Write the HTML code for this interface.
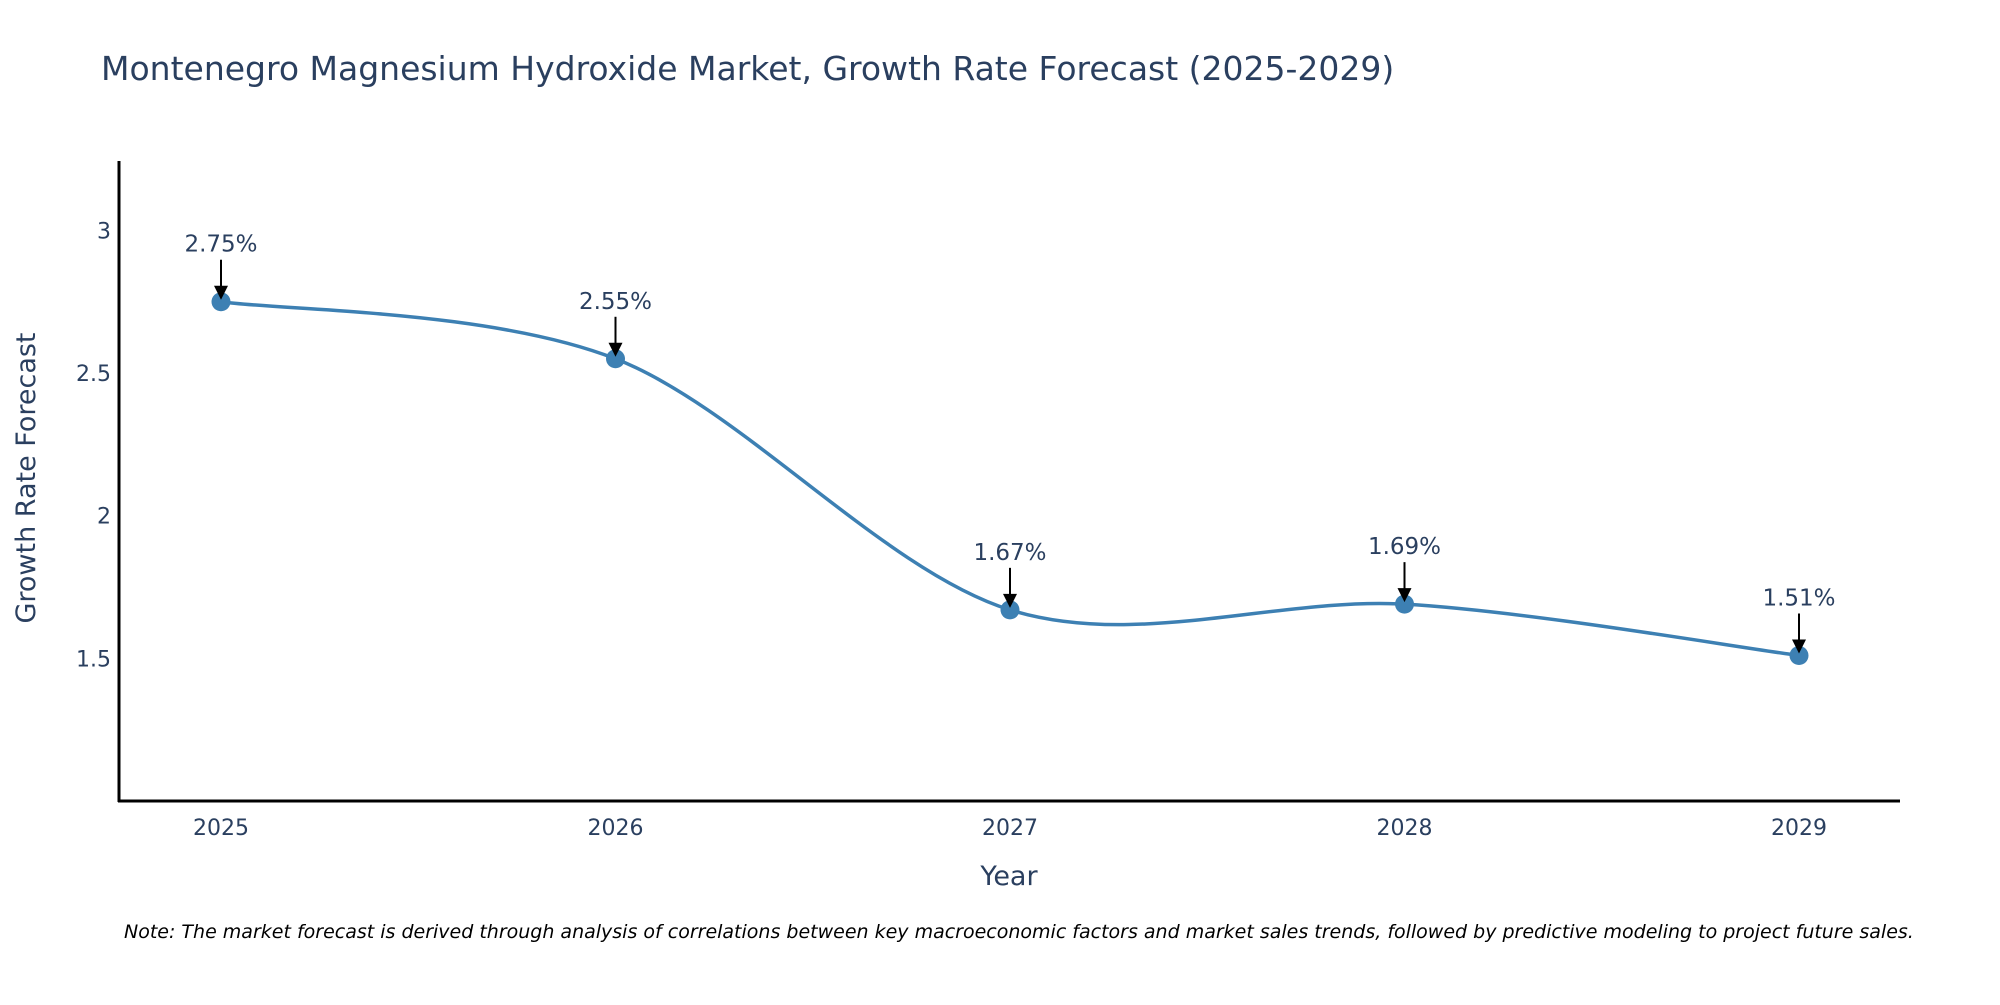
<!DOCTYPE html>
<html><head><meta charset="utf-8"><style>
body{margin:0;background:#fff;}
svg text{font-family:"DejaVu Sans","Liberation Sans",sans-serif;fill:#2a3f5f;}
</style></head><body>
<svg id="chart" width="2000" height="1000" xmlns="http://www.w3.org/2000/svg">
<text x="101" y="80" font-size="33">Montenegro Magnesium Hydroxide Market, Growth Rate Forecast (2025-2029)</text>
<g id="yticks"></g>
<g id="xticks"></g>
<line x1="119" y1="161" x2="119" y2="802" stroke="#000" stroke-width="3"/>
<line x1="118" y1="801" x2="1900" y2="801" stroke="#000" stroke-width="3"/>
<path id="line" fill="none" stroke="#3d80b3" stroke-width="3.5"/>
<g id="pts"></g>
<g id="ann"></g>
<text x="1009" y="885" font-size="27" text-anchor="middle">Year</text>
<text transform="translate(35,478) rotate(-90)" font-size="27" text-anchor="middle">Growth Rate Forecast</text>
<text x="124" y="938" font-size="19" font-style="italic" style="fill:#000">Note: The market forecast is derived through analysis of correlations between key macroeconomic factors and market sales trends, followed by predictive modeling to project future sales.</text>
</svg>
<script>
const years=[2025,2026,2027,2028,2029];
const values=[2.75,2.55,1.67,1.69,1.51];
const labels=["2.75%","2.55%","1.67%","1.69%","1.51%"];
const yTicks=[1.5,2,2.5,3];
const NS="http://www.w3.org/2000/svg";
const x=v=>221+(v-2025)*394.5;
const y=v=>801-(v-1.0)*285.3;
function mk(t,a,p){const e=document.createElementNS(NS,t);for(const k in a)e.setAttribute(k,a[k]);p.appendChild(e);return e;}
const yt=document.getElementById('yticks');
yTicks.forEach(v=>{const t=mk('text',{x:111,y:y(v)+8,'font-size':22,'text-anchor':'end'},yt);t.textContent=String(v);

});
const xt=document.getElementById('xticks');
years.forEach(v=>{const t=mk('text',{x:x(v),y:835,'font-size':22,'text-anchor':'middle'},xt);t.textContent=String(v);

});
const P=years.map((yr,i)=>[x(yr),y(values[i])]);
let d=`M${P[0][0]},${P[0][1]}`;const s=0.16;
for(let i=0;i<P.length-1;i++){const p0=P[i-1]||P[i],p1=P[i],p2=P[i+1],p3=P[i+2]||P[i+1];
d+=` C${p1[0]+(p2[0]-p0[0])*s},${p1[1]+(p2[1]-p0[1])*s} ${p2[0]-(p3[0]-p1[0])*s},${p2[1]-(p3[1]-p1[1])*s} ${p2[0]},${p2[1]}`;}
document.getElementById('line').setAttribute('d',d);
const pts=document.getElementById('pts'),ann=document.getElementById('ann');
P.forEach((p,i)=>{const c=mk('circle',{cx:p[0],cy:p[1],r:9.5,fill:'#3d80b3'},pts);


const l=mk('line',{x1:p[0],y1:p[1]-42,x2:p[0],y2:p[1]-14,stroke:'#000','stroke-width':2},ann);


const h=mk('path',{d:`M${p[0]-7},${p[1]-16} L${p[0]+7},${p[1]-16} L${p[0]},${p[1]-2} Z`,fill:'#000'},ann);


const t=mk('text',{x:p[0],y:p[1]-50,'font-size':23,'text-anchor':'middle'},ann);t.textContent=labels[i];

});
</script>
</body></html>
